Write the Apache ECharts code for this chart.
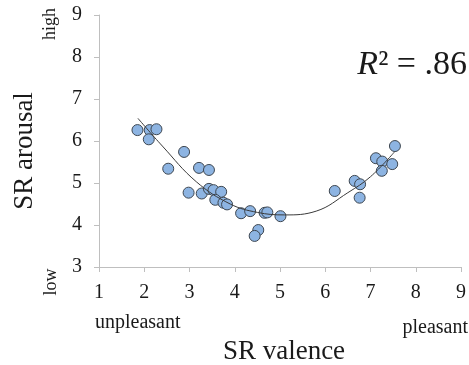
<!DOCTYPE html>
<html>
<head>
<meta charset="utf-8">
<script src="https://cdn.jsdelivr.net/npm/echarts@6/dist/echarts.min.js"></script>
<style>
  html, body { margin: 0; padding: 0; background: #fff; }
  #chart { width: 469px; height: 365px; }
</style>
</head>
<body>
<div id="chart"></div>
<script>
// valence / arousal ratings
const valence = [1.85, 2.12, 2.27, 2.10, 2.88, 2.53, 3.21, 3.43, 2.98, 3.27, 3.43, 3.53, 3.70, 3.57, 3.75, 3.83,
  4.14, 4.34, 4.66, 4.72, 5.01, 4.52, 4.44, 6.21, 6.65, 6.77, 6.76, 7.12, 7.26, 7.25, 7.48, 7.54];
const arousal = [6.26, 6.26, 6.28, 6.04, 5.74, 5.34, 5.36, 5.31, 4.77, 4.75, 4.86, 4.83, 4.79, 4.60, 4.53, 4.49,
  4.28, 4.33, 4.29, 4.30, 4.21, 3.88, 3.74, 4.81, 5.05, 4.97, 4.65, 5.59, 5.51, 5.29, 5.45, 5.88];

// quadratic trend line
const fitX = [1.86, 2.4, 3.15, 3.9, 4.5, 5.1, 5.8, 6.5, 7.0, 7.53];
const fitY = [6.54, 5.88, 5.03, 4.5, 4.3, 4.24, 4.33, 4.77, 5.15, 5.74];

const xTicks = [1, 2, 3, 4, 5, 6, 7, 8, 9];
const yTicks = [3, 4, 5, 6, 7, 8, 9];

const serif = '"Liberation Serif", "DejaVu Serif", serif';
const axisGray = '#bfbfbf';

const chart = echarts.init(document.getElementById('chart'));

function txt(text, x, y, size, align, rotation) {
  return {
    type: 'text',
    x: x,
    y: y,
    rotation: rotation || 0,
    style: {
      text: text,
      x: 0, y: 0,
      font: size + 'px ' + serif,
      fill: '#1a1a1a',
      align: align, textAlign: align,
      verticalAlign: 'middle', textVerticalAlign: 'middle',
    },
  };
}

chart.setOption({
  animation: false,
  grid: { left: 99, right: 7, top: 15, bottom: 98 },
  xAxis: {
    type: 'value',
    min: xTicks[0],
    max: xTicks[xTicks.length - 1],
    interval: 1,
    axisLine: { lineStyle: { color: axisGray } },
    axisTick: { show: true, length: 5, lineStyle: { color: axisGray } },
    axisLabel: { color: '#1a1a1a', fontFamily: serif, fontSize: 20, margin: 16 },
    splitLine: { show: false },
  },
  yAxis: {
    type: 'value',
    min: yTicks[0],
    max: yTicks[yTicks.length - 1],
    interval: 1,
    axisLine: { show: true, lineStyle: { color: axisGray } },
    axisTick: { show: true, length: 5, lineStyle: { color: axisGray } },
    axisLabel: { color: '#1a1a1a', fontFamily: serif, fontSize: 20, margin: 17 },
    splitLine: { show: false },
  },
  series: [
    {
      type: 'line',
      data: fitX.map((x, i) => [x, fitY[i]]),
      smooth: 0.4,
      showSymbol: false,
      lineStyle: { color: '#3a3a3a', width: 1 },
      z: 3,
    },
    {
      type: 'scatter',
      data: valence.map((v, i) => [v, arousal[i]]),
      symbolSize: 11,
      itemStyle: { color: '#8db4e2', borderColor: '#3d4650', borderWidth: 1, opacity: 1 },
      z: 2,
    },
  ],
  graphic: [
    txt('SR arousal', 25, 151, 27, 'center', Math.PI / 2),
    txt('high', 50, 24, 18, 'center', Math.PI / 2),
    txt('low', 51, 282, 18, 'center', Math.PI / 2),
    txt('unpleasant', 95, 323, 20, 'left'),
    txt('pleasant', 468, 328, 20, 'right'),
    txt('SR valence', 284, 352, 27, 'center'),
    {
      type: 'text',
      x: 467, y: 65,
      style: {
        text: '{i|R}{n|² = .86}',
        x: 0, y: 0,
        align: 'right', textAlign: 'right',
        verticalAlign: 'middle', textVerticalAlign: 'middle',
        rich: {
          i: { font: 'italic 34px ' + serif, fill: '#1a1a1a' },
          n: { font: '34px ' + serif, fill: '#1a1a1a' },
        },
      },
    },
  ],
});
</script>
</body>
</html>
